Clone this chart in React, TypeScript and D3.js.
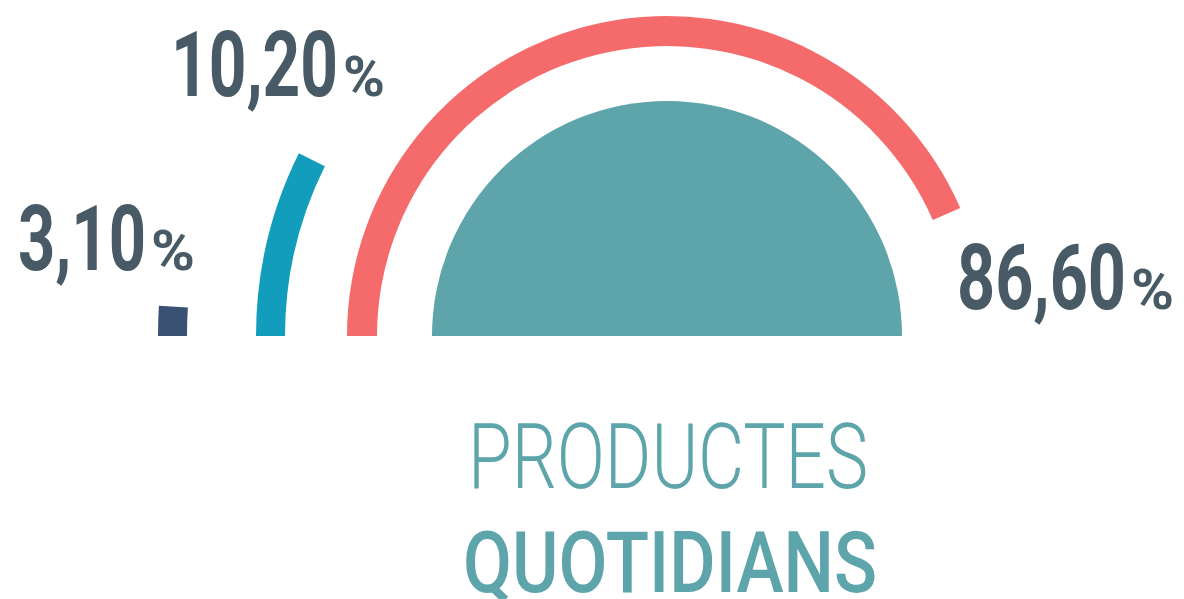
import React from "react";
import * as d3 from "d3";

// ---- data ----
const categories = ["Diaris", "Setmanals", "Ocasionals"];
const shareValues = [86.6, 10.2, 3.1];
const shareLabels = ["86,60", "10,20", "3,10"];
const titleLines = ["PRODUCTES", "QUOTIDIANS"];
// infographic angle scale (value -> degrees of sweep), as drawn in the original design
const scaleDomain = [0, 3.1, 10.2, 86.6, 100];
const scaleRangeDeg = [0, 3.4, 26.4, 156.4, 180];

const W = 1184;
const H = 599;
const cx = 667;
const cy = 336;

const ringColors = ["#F56A6A", "#139DBD", "#3A5174"];
const ringRadii = [
  [290, 320],
  [382, 411],
  [480, 509],
];
const labelLayout = [
  { x: 957, y: 309, w: 169, px: 1131, pw: 43 },
  { x: 171, y: 96, w: 167, px: 343, pw: 42 },
  { x: 18, y: 270, w: 128, px: 151, pw: 44 },
];

export default function App() {
  const angle = d3
    .scaleLinear()
    .domain(scaleDomain)
    .range(scaleRangeDeg.map((d) => (d * Math.PI) / 180));
  const start = -Math.PI / 2;
  const arcGen = d3.arc<any>();

  const semi = arcGen({
    innerRadius: 0,
    outerRadius: 235,
    startAngle: -Math.PI / 2,
    endAngle: Math.PI / 2,
  } as any) as string;

  return (
    <svg
      width={W}
      height={H}
      style={{ position: "absolute", left: 0, top: 0, background: "#fff" }}
    >
      <g transform={`translate(${cx},${cy})`}>
        <path d={semi} fill="#5DA4AB" />
        {shareValues.map((v, i) => (
          <path
            key={categories[i]}
            d={
              arcGen({
                innerRadius: ringRadii[i][0],
                outerRadius: ringRadii[i][1],
                startAngle: start,
                endAngle: start + angle(v),
              } as any) as string
            }
            fill={ringColors[i]}
          />
        ))}
      </g>
      {shareLabels.map((t, i) => {
        const L = labelLayout[i];
        return (
          <g key={t} fill="#475A65" fontFamily="Roboto" fontWeight={700}>
            <text
              x={L.x}
              y={L.y}
              fontSize={90}
              textLength={L.w}
              lengthAdjust="spacingAndGlyphs"
            >
              {t}
            </text>
            <text
              x={L.px}
              y={L.y}
              fontSize={55}
              textLength={L.pw}
              lengthAdjust="spacingAndGlyphs"
            >
              %
            </text>
          </g>
        );
      })}
      <text
        x={468}
        y={488}
        fontFamily="Roboto"
        fontWeight={300}
        fontSize={90}
        fill="#5DA4AB"
        textLength={400}
        lengthAdjust="spacingAndGlyphs"
      >
        {titleLines[0]}
      </text>
      <text
        x={463}
        y={592}
        fontFamily="Roboto"
        fontWeight={500}
        fontSize={85}
        fill="#5DA4AB"
        textLength={414}
        lengthAdjust="spacingAndGlyphs"
      >
        {titleLines[1]}
      </text>
    </svg>
  );
}
